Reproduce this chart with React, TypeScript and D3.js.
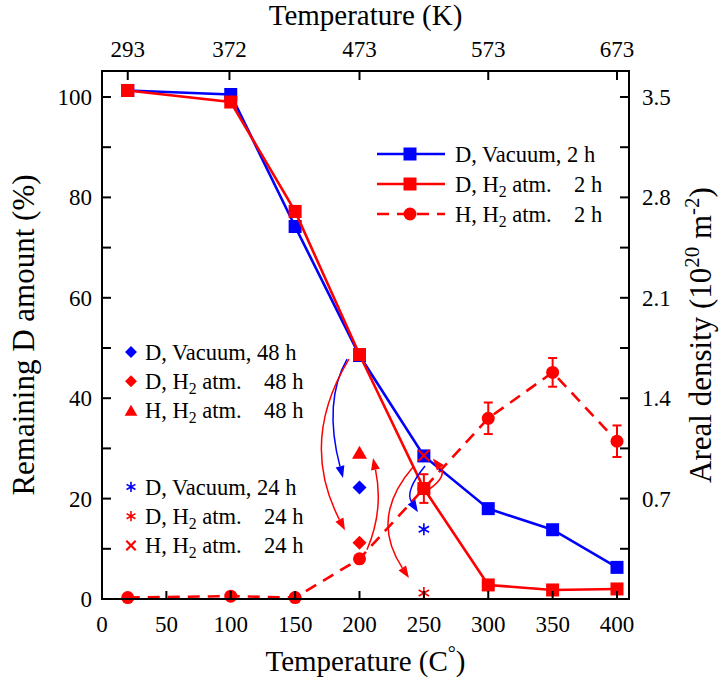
import React from 'react';
import * as d3 from 'd3';

// temperatures (C) of the 2 h series
const temps = [20, 100, 150, 200, 250, 300, 350, 400];
// remaining D amount (%) - left axis
const dVacuum2h = [101.3, 100.5, 74.2, 48.5, 28.5, 18.0, 13.8, 6.3];
const dH2atm2h = [101.3, 99.0, 77.2, 48.7, 22.0, 2.8, 1.8, 2.0];
// H areal density (1e20 m^-2) - right axis
const hH2atm2h = [0.01, 0.02, 0.01, 0.28, 0.77, 1.26, 1.58, 1.1];
const hH2atm2hErr = [0, 0, 0, 0, 0.1, 0.11, 0.1, 0.11];

// 48 h points (at 200 C)
const temp48h = 200;
const dVacuum48h = 22.2;
const dH2atm48h = 11.2;
const hH2atm48h = 1.02;
// 24 h points (at 250 C)
const temp24h = 250;
const dVacuum24h = 13.9;
const dH2atm24h = 1.2;
const hH2atm24h = 1.0;

const xTicks = [0, 50, 100, 150, 200, 250, 300, 350, 400];
const kelvinTicks = [293, 372, 473, 573, 673];
const leftTicks = [0, 10, 20, 30, 40, 50, 60, 70, 80, 90, 100];
const leftLabels = [0, 20, 40, 60, 80, 100];
const rightTicks = [0.35, 0.7, 1.05, 1.4, 1.75, 2.1, 2.45, 2.8, 3.15, 3.5];
const rightLabels = [0.7, 1.4, 2.1, 2.8, 3.5];

// curved annotation arrows, in (C, %) units: start, control, end
const arrows = [
  { color: 'blue', from: [190.3, 47.8], ctrl: [171.7, 39.3], to: [187.2, 24.1] },
  { color: 'red', from: [191.8, 47.8], ctrl: [153.0, 31.4], to: [188.7, 13.7] },
  { color: 'red', from: [205.8, 9.8], ctrl: [219.0, 17.7], to: [210.5, 28.1] },
  { color: 'red', from: [241.6, 26.3], ctrl: [207.4, 16.2], to: [238.4, 4.2] },
  { color: 'blue', from: [250.9, 26.5], ctrl: [235.0, 21.5], to: [245.4, 17.3] },
  { color: 'red', from: [254.8, 22.0], ctrl: [268.0, 24.5], to: [257.0, 28.0] },
];

const BLUE = '#0000ff';
const RED = '#ff0000';
const FONT = "'Liberation Serif', 'Times New Roman', serif";

const L = 102, R = 629, T = 71, B = 599;

const x = d3.scaleLinear().domain([0, 400]).range([L, 617]);
const yL = d3.scaleLinear().domain([0, 100]).range([B, 97]);
const yR = d3.scaleLinear().domain([0, 3.5]).range([B, 97]);

type Shape = 'square' | 'circle' | 'diamond' | 'triangle' | 'star' | 'cross';

function Marker({ shape, cx, cy, color, s = 1 }: { shape: Shape; cx: number; cy: number; color: string; s?: number }) {
  switch (shape) {
    case 'square':
      return <rect x={cx - 6.5 * s} y={cy - 6.5 * s} width={13 * s} height={13 * s} fill={color} />;
    case 'circle':
      return <circle cx={cx} cy={cy} r={6.5 * s} fill={color} />;
    case 'diamond': {
      const d = 7 * s;
      return <path d={`M${cx},${cy - d}L${cx + d},${cy}L${cx},${cy + d}L${cx - d},${cy}Z`} fill={color} />;
    }
    case 'triangle': {
      const w = 7.5 * s;
      return <path d={`M${cx},${cy - 7 * s}L${cx + w},${cy + 6 * s}L${cx - w},${cy + 6 * s}Z`} fill={color} />;
    }
    case 'star': {
      const r = 6 * s;
      const lines = [90, 30, 150].map((a) => {
        const dx = r * Math.cos((a * Math.PI) / 180);
        const dy = r * Math.sin((a * Math.PI) / 180);
        return `M${cx - dx},${cy - dy}L${cx + dx},${cy + dy}`;
      });
      return <path d={lines.join('')} stroke={color} strokeWidth={1.6} fill="none" />;
    }
    case 'cross': {
      const r = 5.5 * s;
      return (
        <path
          d={`M${cx - r},${cy - r}L${cx + r},${cy + r}M${cx - r},${cy + r}L${cx + r},${cy - r}`}
          stroke={color}
          strokeWidth={2.2}
          fill="none"
        />
      );
    }
  }
  return null;
}

function Label({ pre, sub, post, x0, y0, size }: { pre: string; sub?: string; post?: string; x0: number; y0: number; size: number }) {
  return (
    <text x={x0} y={y0} fontSize={size} dy="0.35em" style={{ whiteSpace: 'pre' }}>
      {pre}
      {sub && (
        <tspan dy={5} fontSize={size * 0.7}>
          {sub}
        </tspan>
      )}
      {post && <tspan dy={sub ? -5 : 0}>{post}</tspan>}
    </text>
  );
}

const topLegend = [
  { pre: 'D, Vacuum, 2 h', color: BLUE, shape: 'square' as Shape, dashed: false },
  { pre: 'D, H', sub: '2', post: ' atm.    2 h', color: RED, shape: 'square' as Shape, dashed: false },
  { pre: 'H, H', sub: '2', post: ' atm.    2 h', color: RED, shape: 'circle' as Shape, dashed: true },
];

const leftLegend = [
  { pre: 'D, Vacuum, 48 h', color: BLUE, shape: 'diamond' as Shape, gap: 0 },
  { pre: 'D, H', sub: '2', post: ' atm.    48 h', color: RED, shape: 'diamond' as Shape, gap: 0 },
  { pre: 'H, H', sub: '2', post: ' atm.    48 h', color: RED, shape: 'triangle' as Shape, gap: 0 },
  { pre: 'D, Vacuum, 24 h', color: BLUE, shape: 'star' as Shape, gap: 1 },
  { pre: 'D, H', sub: '2', post: ' atm.    24 h', color: RED, shape: 'star' as Shape, gap: 1 },
  { pre: 'H, H', sub: '2', post: ' atm.    24 h', color: RED, shape: 'cross' as Shape, gap: 1 },
];

function Arrow({ from, ctrl, to, color }: { from: number[]; ctrl: number[]; to: number[]; color: string }) {
  const p0 = [x(from[0]), yL(from[1])];
  const c = [x(ctrl[0]), yL(ctrl[1])];
  const p1 = [x(to[0]), yL(to[1])];
  const ang = Math.atan2(p1[1] - c[1], p1[0] - c[0]);
  const len = 12, hw = 4.5;
  const bx = p1[0] - len * Math.cos(ang), by = p1[1] - len * Math.sin(ang);
  const nx = -Math.sin(ang) * hw, ny = Math.cos(ang) * hw;
  return (
    <g>
      <path d={`M${p0[0]},${p0[1]}Q${c[0]},${c[1]} ${bx},${by}`} stroke={color} strokeWidth={1.5} fill="none" />
      <path d={`M${p1[0]},${p1[1]}L${bx + nx},${by + ny}L${bx - nx},${by - ny}Z`} fill={color} />
    </g>
  );
}

export default function App() {
  const lineL = d3.line<number>().x((_, i) => x(temps[i])).y((d) => yL(d));
  const lineR = d3.line<number>().x((_, i) => x(temps[i])).y((d) => yR(d));

  return (
    <svg width={725} height={685} fontFamily={FONT} style={{ position: 'absolute', left: 0, top: 0, background: '#fff' }}>
      <rect width={725} height={685} fill="#fff" />

      {/* H, H2 atm. 2 h (dashed, right axis) */}
      <path d={lineR(hH2atm2h) || ''} stroke={RED} strokeWidth={2.6} strokeDasharray="12,8" fill="none" />
      {hH2atm2h.map((v, i) =>
        hH2atm2hErr[i] > 0 ? (
          <g key={'e' + i} stroke={RED} strokeWidth={2}>
            <line x1={x(temps[i])} x2={x(temps[i])} y1={yR(v - hH2atm2hErr[i])} y2={yR(v + hH2atm2hErr[i])} />
            <line x1={x(temps[i]) - 4.5} x2={x(temps[i]) + 4.5} y1={yR(v - hH2atm2hErr[i])} y2={yR(v - hH2atm2hErr[i])} />
            <line x1={x(temps[i]) - 4.5} x2={x(temps[i]) + 4.5} y1={yR(v + hH2atm2hErr[i])} y2={yR(v + hH2atm2hErr[i])} />
          </g>
        ) : null
      )}
      {hH2atm2h.map((v, i) => (
        <Marker key={'c' + i} shape="circle" cx={x(temps[i])} cy={yR(v)} color={RED} />
      ))}

      {/* D, Vacuum 2 h */}
      <path d={lineL(dVacuum2h) || ''} stroke={BLUE} strokeWidth={2.6} fill="none" />
      {dVacuum2h.map((v, i) => (
        <Marker key={'b' + i} shape="square" cx={x(temps[i])} cy={yL(v)} color={BLUE} />
      ))}
      {/* D, H2 atm. 2 h */}
      <path d={lineL(dH2atm2h) || ''} stroke={RED} strokeWidth={2.6} fill="none" />
      {dH2atm2h.map((v, i) => (
        <Marker key={'r' + i} shape="square" cx={x(temps[i])} cy={yL(v)} color={RED} />
      ))}

      {/* 48 h and 24 h points */}
      <Marker shape="diamond" cx={x(temp48h)} cy={yL(dVacuum48h)} color={BLUE} />
      <Marker shape="diamond" cx={x(temp48h)} cy={yL(dH2atm48h)} color={RED} />
      <Marker shape="triangle" cx={x(temp48h)} cy={yR(hH2atm48h)} color={RED} />
      <Marker shape="star" cx={x(temp24h)} cy={yL(dVacuum24h)} color={BLUE} />
      <Marker shape="star" cx={x(temp24h)} cy={yL(dH2atm24h)} color={RED} />
      <Marker shape="cross" cx={x(temp24h)} cy={yR(hH2atm24h)} color={RED} />

      {arrows.map((a, i) => (
        <Arrow key={'a' + i} {...a} color={a.color === 'blue' ? BLUE : RED} />
      ))}

      {/* frame and ticks */}
      <rect x={L} y={T} width={R - L} height={B - T} fill="none" stroke="#000" strokeWidth={2} />
      {xTicks.map((t) => (
        <g key={'xt' + t}>
          <line x1={x(t)} x2={x(t)} y1={B} y2={B - 8} stroke="#000" strokeWidth={2} />
          <text x={x(t)} y={632} fontSize={23} textAnchor="middle">
            {t}
          </text>
        </g>
      ))}
      {kelvinTicks.map((k) => (
        <g key={'kt' + k}>
          <line x1={x(k - 273)} x2={x(k - 273)} y1={T} y2={T + 9} stroke="#000" strokeWidth={2} />
          <text x={x(k - 273)} y={57} fontSize={23} textAnchor="middle">
            {k}
          </text>
        </g>
      ))}
      {leftTicks.map((t) => (
        <line key={'lt' + t} x1={L} x2={L + 9} y1={yL(t)} y2={yL(t)} stroke="#000" strokeWidth={2} />
      ))}
      {leftLabels.map((t) => (
        <text key={'ll' + t} x={92} y={yL(t)} dy="0.35em" fontSize={23} textAnchor="end">
          {t}
        </text>
      ))}
      {rightTicks.map((t) => (
        <line key={'rt' + t} x1={R} x2={R - 9} y1={yR(t)} y2={yR(t)} stroke="#000" strokeWidth={2} />
      ))}
      {rightLabels.map((t) => (
        <text key={'rl' + t} x={642} y={yR(t)} dy="0.35em" fontSize={23} textAnchor="start">
          {t.toFixed(1)}
        </text>
      ))}

      {/* axis titles */}
      <text x={(L + R) / 2} y={25} fontSize={29} textAnchor="middle">
        Temperature (K)
      </text>
      <text x={(L + R) / 2} y={671} fontSize={29} textAnchor="middle">
        Temperature (C<tspan dy={-11} fontSize={20}>°</tspan>
        <tspan dy={11}>)</tspan>
      </text>
      <text transform={`translate(34,${(T + B) / 2}) rotate(-90)`} fontSize={31} textAnchor="middle">
        Remaining D amount (%)
      </text>
      <text transform={`translate(711,${(T + B) / 2}) rotate(-90)`} fontSize={31} textAnchor="middle">
        Areal density (10<tspan dy={-12} fontSize={21}>20</tspan>
        <tspan dy={12}> m</tspan>
        <tspan dy={-12} fontSize={21}>-2</tspan>
        <tspan dy={12}>)</tspan>
      </text>

      {/* top-right legend */}
      {topLegend.map((d, i) => {
        const cy = 154 + i * 30;
        return (
          <g key={'tl' + i}>
            <line x1={377} x2={445} y1={cy} y2={cy} stroke={d.color} strokeWidth={2.6} strokeDasharray={d.dashed ? '12,8' : undefined} />
            <Marker shape={d.shape} cx={410} cy={cy} color={d.color} />
            <Label pre={d.pre} sub={d.sub} post={d.post} x0={455} y0={cy} size={22.5} />
          </g>
        );
      })}

      {/* left legend */}
      {leftLegend.map((d, i) => {
        const cy = 352 + i * 29.3 + d.gap * 47;
        return (
          <g key={'ll' + i}>
            <Marker shape={d.shape} cx={131} cy={cy} color={d.color} s={0.85} />
            <Label pre={d.pre} sub={d.sub} post={d.post} x0={145} y0={cy} size={22.5} />
          </g>
        );
      })}
    </svg>
  );
}
